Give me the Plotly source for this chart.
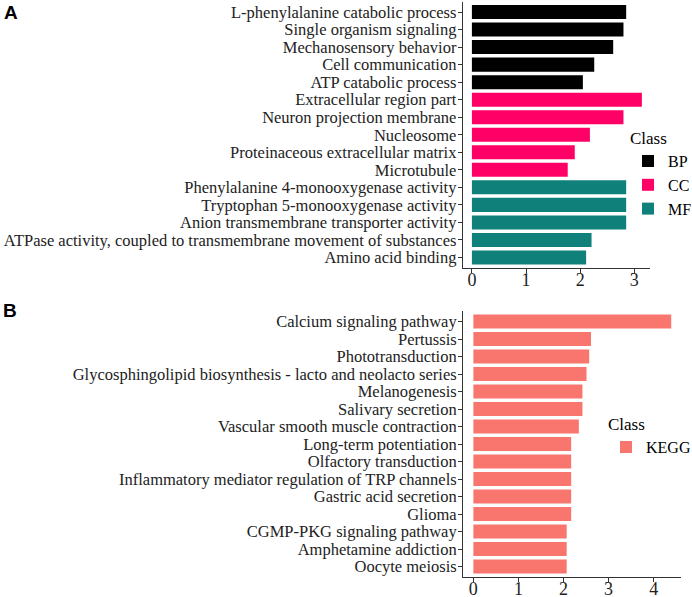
import plotly.graph_objects as go
from plotly.subplots import make_subplots

# panel A: GO terms
go_terms = [
    "L-phenylalanine catabolic process",
    "Single organism signaling",
    "Mechanosensory behavior",
    "Cell communication",
    "ATP catabolic process",
    "Extracellular region part",
    "Neuron projection membrane",
    "Nucleosome",
    "Proteinaceous extracellular matrix",
    "Microtubule",
    "Phenylalanine 4-monooxygenase activity",
    "Tryptophan 5-monooxygenase activity",
    "Anion transmembrane transporter activity",
    "ATPase activity, coupled to transmembrane movement of substances",
    "Amino acid binding",
]
go_values = [2.85, 2.80, 2.61, 2.26, 2.05, 3.14, 2.80, 2.18, 1.90, 1.77,
             2.85, 2.85, 2.85, 2.21, 2.11]
go_class = ["BP"] * 5 + ["CC"] * 5 + ["MF"] * 5
class_colors = {"BP": "#000000", "CC": "#FF0066", "MF": "#10807A"}

# panel B: KEGG pathways
kegg_terms = [
    "Calcium signaling pathway",
    "Pertussis",
    "Phototransduction",
    "Glycosphingolipid biosynthesis - lacto and neolacto series",
    "Melanogenesis",
    "Salivary secretion",
    "Vascular smooth muscle contraction",
    "Long-term potentiation",
    "Olfactory transduction",
    "Inflammatory mediator regulation of TRP channels",
    "Gastric acid secretion",
    "Glioma",
    "CGMP-PKG signaling pathway",
    "Amphetamine addiction",
    "Oocyte meiosis",
]
kegg_values = [4.39, 2.61, 2.57, 2.51, 2.42, 2.42, 2.34, 2.17, 2.17, 2.17,
               2.17, 2.17, 2.07, 2.07, 2.07]
kegg_color = "#F8766D"

FONT = "Liberation Serif, Times New Roman, serif"
W, H = 692, 597
T, B = 0, 18
ph = H - T - B


def ydom(top_px, bot_px):
    lo = 1 - (bot_px - T) / ph
    hi = 1 - (top_px - T) / ph
    return [max(0, min(1, lo)), max(0, min(1, hi))]


fig = make_subplots(rows=2, cols=1)

for cls in ["BP", "CC", "MF"]:
    idx = [i for i, c in enumerate(go_class) if c == cls]
    fig.add_trace(go.Bar(
        x=[go_values[i] for i in idx],
        y=[go_terms[i] for i in idx],
        orientation="h",
        name=cls,
        marker=dict(color=class_colors[cls], line=dict(width=0)),
        legend="legend",
    ), row=1, col=1)

fig.add_trace(go.Bar(
    x=kegg_values, y=kegg_terms, orientation="h", name="KEGG",
    marker=dict(color=kegg_color, line=dict(width=0)),
    legend="legend2",
), row=2, col=1)

axis_style = dict(showline=True, linecolor="#333333", linewidth=1,
                  ticks="outside", ticklen=4, tickcolor="#333333",
                  showgrid=False, zeroline=False, automargin=False,
                  tickfont=dict(family=FONT, size=16.5, color="#222222"))

fig.update_xaxes(**axis_style)
fig.update_yaxes(**axis_style)

fig.update_layout(
    xaxis=dict(domain=[462.7 / W, 650 / W], range=[-0.17, 3.29],
               tickvals=[0, 1, 2, 3], tickfont=dict(size=18),
               ticklabelstandoff=-9),
    yaxis=dict(domain=ydom(1.5, 268), range=[14.6, -0.6],
               tickmode="array", tickvals=go_terms,
               categoryorder="array", categoryarray=go_terms,
               ticklabelstandoff=-2),
    xaxis2=dict(domain=[463 / W, 680.7 / W], range=[-0.23, 4.6],
                tickvals=[0, 1, 2, 3, 4], tickfont=dict(size=18),
                ticklabelstandoff=-9),
    yaxis2=dict(domain=ydom(311, 577), range=[14.6, -0.6],
                tickmode="array", tickvals=kegg_terms,
                categoryorder="array", categoryarray=kegg_terms,
                ticklabelstandoff=-2),
    bargap=0.2,
    barmode="overlay",
    width=W, height=H,
    margin=dict(l=0, r=0, t=T, b=B, autoexpand=False),
    paper_bgcolor="white", plot_bgcolor="white",
    font=dict(family=FONT, size=16, color="#000000"),
    legend=dict(title=dict(text="Class", font=dict(size=17)),
                x=628 / W, y=ydom(122, 122)[0], xanchor="left", yanchor="top",
                font=dict(size=16), tracegroupgap=0, itemwidth=30,
                bgcolor="rgba(0,0,0,0)"),
    legend2=dict(title=dict(text="Class", font=dict(size=17)),
                 x=606 / W, y=ydom(408, 408)[0], xanchor="left", yanchor="top",
                 font=dict(size=16), itemwidth=30,
                 bgcolor="rgba(0,0,0,0)"),
    annotations=[
        dict(text="<b>A</b>", x=2 / W, y=1.0, xref="paper", yref="paper",
             xanchor="left", yanchor="top", showarrow=False,
             font=dict(family="Liberation Sans, Arial, sans-serif", size=19)),
        dict(text="<b>B</b>", x=1 / W, y=ydom(298, 298)[0], xref="paper",
             yref="paper", xanchor="left", yanchor="top", showarrow=False,
             font=dict(family="Liberation Sans, Arial, sans-serif", size=19)),
    ],
)

fig.write_html("out.html", config={"displayModeBar": False},
               post_script="document.body.style.margin='0';")
